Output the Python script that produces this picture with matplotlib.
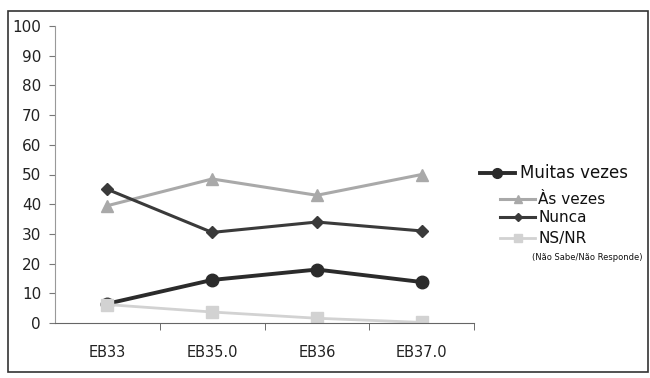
import matplotlib.pyplot as plt
from matplotlib.lines import Line2D
from matplotlib.patches import Rectangle

categories = ["EB33", "EB35.0", "EB36", "EB37.0"]
muitas_vezes = [6.5, 14.5, 18, 13.8]
as_vezes = [39.5, 48.5, 43, 50]
nunca = [45, 30.5, 34, 31]
ns_nr = [6.2, 3.7, 1.6, 0.2]

series_names = ["Muitas vezes", "Às vezes", "Nunca", "NS/NR"]
series_data = [muitas_vezes, as_vezes, nunca, ns_nr]
colors = ["#2b2b2b", "#a9a9a9", "#3a3a3a", "#d2d2d2"]
markers = ["o", "^", "D", "s"]
msizes = [9, 8, 6, 8]
lwidths = [2.8, 2.2, 2.2, 2.0]

fig = plt.figure(figsize=(6.5, 3.78), dpi=100)
ax = fig.add_axes([55 / 650, 1 - 323 / 378, (474 - 55) / 650, (323 - 26) / 378])

x = list(range(len(categories)))
for name, vals, c, m, ms, lw in zip(series_names, series_data, colors, markers, msizes, lwidths):
    ax.plot(x, vals, color=c, marker=m, markersize=ms, linewidth=lw, label=name)

ax.set_xlim(-0.5, len(categories) - 0.5)
ax.set_ylim(0, 100)
ax.set_yticks(range(0, 101, 10))
ax.set_xticks(x)
ax.set_xticklabels(categories)
ax.set_xticks([i + 0.5 for i in x], minor=True)
ax.tick_params(axis="x", which="major", length=0, pad=16, labelsize=10.5, colors="#222222")
ax.tick_params(axis="x", which="minor", length=5, direction="out", color="#555555")
ax.tick_params(axis="y", length=4, direction="out", labelsize=11, color="#777777",
               labelcolor="#222222", pad=6)
for s in ["top", "right"]:
    ax.spines[s].set_visible(False)
ax.spines["left"].set_color("#999999")
ax.spines["bottom"].set_color("#666666")

# legend drawn by hand, to the right of the plot
tr = fig.transFigure
def fx(px):
    return px / 650
def fy(py):
    return 1 - py / 378

leg = [(480, 515, 520, 173, 12), (500, 535, 538, 199, 11),
       (500, 535, 538, 217, 11), (500, 535, 538, 238, 11)]
for (x0, x1, tx, ty, fs), name, c, m, ms, lw in zip(leg, series_names, colors, markers, msizes, lwidths):
    fig.add_artist(Line2D([fx(x0), fx(x1)], [fy(ty), fy(ty)], transform=tr,
                          color=c, linewidth=lw))
    fig.add_artist(Line2D([fx((x0 + x1) / 2)], [fy(ty)], transform=tr, color=c,
                          marker=m, markersize=ms - 2, linestyle="none"))
    fig.text(fx(tx), fy(ty), name, fontsize=fs, va="center", ha="left", color="#111111")
fig.text(fx(532), fy(257), "(Não Sabe/Não Responde)", fontsize=6, va="center",
         ha="left", color="#111111")

fig.add_artist(Rectangle((fx(8), fy(372)), fx(648) - fx(8), fy(11) - fy(372),
                         transform=tr, fill=False, edgecolor="#333333", linewidth=1.2))

fig.savefig("out.png", dpi=100)
